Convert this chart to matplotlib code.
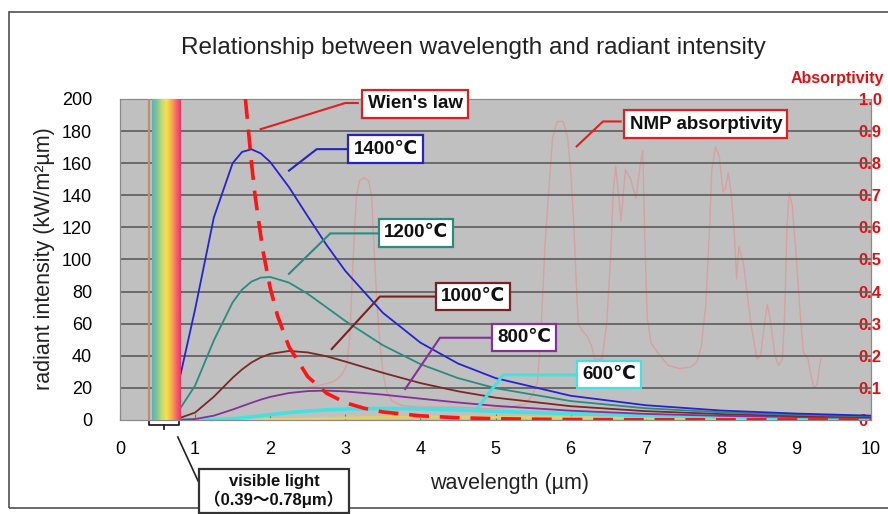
import numpy as np
import matplotlib
matplotlib.use("Agg")
import matplotlib.pyplot as plt
from matplotlib.colors import LinearSegmentedColormap
from matplotlib.patches import Rectangle

plt.rcParams['font.family'] = ['Liberation Sans', 'DejaVu Sans', 'Noto Sans CJK JP']

# wavelength grid (um) for the blackbody curves
wl = [0.5, 0.75, 1.0, 1.25, 1.5, 1.625, 1.75, 1.875, 2.0, 2.25, 2.5, 2.75, 3.0,
      3.5, 4.0, 4.5, 5.0, 6.0, 7.0, 8.0, 9.0, 10.0]
t1400 = [0.4, 16.5, 68.9, 126.2, 160.0, 167.0, 168.7, 166.1, 160.8, 145.1, 126.9, 109.1, 92.9,
         66.8, 48.2, 35.2, 26.1, 15.1, 9.2, 5.9, 4.0, 2.7]
t1200 = [0.0, 3.5, 21.4, 49.6, 73.3, 81.2, 86.2, 88.7, 89.1, 85.6, 78.6, 70.2, 61.7,
         46.6, 34.8, 26.1, 19.8, 11.8, 7.3, 4.8, 3.2, 2.3]
t1000 = [0.0, 0.5, 4.6, 14.5, 26.3, 31.5, 35.8, 39.0, 41.2, 43.0, 42.1, 39.7, 36.4,
         29.4, 23.0, 17.9, 13.9, 8.6, 5.5, 3.7, 2.5, 1.8]
t800 = [0.0, 0.0, 0.6, 2.7, 6.5, 8.6, 10.7, 12.7, 14.4, 16.8, 18.0, 18.3, 17.8,
        15.8, 13.3, 10.9, 8.8, 5.8, 3.8, 2.6, 1.8, 1.3]
t600 = [0.0, 0.0, 0.0, 0.2, 0.8, 1.3, 1.9, 2.6, 3.3, 4.6, 5.6, 6.3, 6.8,
        7.2, 7.0, 6.3, 5.4, 3.9, 2.8, 2.0, 1.4, 1.0]
t400 = [0.0, 0.0, 0.0, 0.0, 0.0, 0.02, 0.05, 0.1, 0.27, 0.48, 0.74, 1.0, 1.24,
        1.59, 1.75, 1.77, 1.69, 1.40, 1.10, 0.85, 0.65, 0.50]

# Wien's displacement locus
wien_x = [1.67, 1.7, 1.75, 1.8, 1.9, 2.0, 2.1, 2.25, 2.5, 2.75, 3.0, 3.25, 3.5, 4.0,
          4.5, 5.0, 5.5, 6.0, 7.0, 8.0, 9.0, 10.0]
wien_y = [200, 185.5, 160.5, 139.4, 106.4, 82.3, 64.6, 45.7, 27.0, 16.7, 10.8, 7.3, 5.0, 2.6,
          1.4, 0.8, 0.5, 0.3, 0.15, 0.08, 0.05, 0.03]

# NMP absorptivity (right axis)
nmp_x = [2.5, 2.7, 2.85, 2.95, 3.02, 3.06, 3.09, 3.12, 3.15, 3.19, 3.25, 3.31, 3.35, 3.38,
         3.42, 3.46, 3.5, 3.55, 3.62, 3.75, 4.0, 4.5, 4.9, 5.2, 5.4, 5.5, 5.56, 5.61, 5.66,
         5.71, 5.76, 5.82, 5.9, 5.96, 6.0, 6.04, 6.07, 6.1, 6.15, 6.22, 6.28, 6.32, 6.42,
         6.48, 6.53, 6.57, 6.6, 6.64, 6.67, 6.7, 6.73, 6.8, 6.87, 6.93, 6.96, 6.99, 7.02,
         7.07, 7.16, 7.3, 7.45, 7.6, 7.68, 7.74, 7.8, 7.85, 7.88, 7.93, 7.98, 8.03, 8.06,
         8.1, 8.14, 8.18, 8.21, 8.24, 8.3, 8.4, 8.48, 8.53, 8.58, 8.62, 8.66, 8.72, 8.77,
         8.82, 8.85, 8.88, 8.91, 8.95, 9.0, 9.06, 9.1, 9.16, 9.2, 9.24, 9.28, 9.33]
nmp_y = [0.10, 0.11, 0.12, 0.14, 0.17, 0.26, 0.42, 0.58, 0.70, 0.745, 0.755, 0.745, 0.70, 0.55,
         0.37, 0.24, 0.15, 0.09, 0.06, 0.045, 0.04, 0.04, 0.035, 0.04, 0.05, 0.08, 0.12, 0.30, 0.55,
         0.72, 0.88, 0.93, 0.93, 0.88, 0.78, 0.62, 0.46, 0.30, 0.28, 0.26, 0.23, 0.19, 0.19,
         0.30, 0.50, 0.72, 0.79, 0.70, 0.62, 0.70, 0.78, 0.75, 0.69, 0.80, 0.84, 0.55, 0.32,
         0.24, 0.21, 0.17, 0.16, 0.165, 0.18, 0.23, 0.36, 0.60, 0.78, 0.85, 0.82, 0.71, 0.72,
         0.77, 0.70, 0.58, 0.44, 0.54, 0.49, 0.30, 0.19, 0.20, 0.30, 0.36, 0.31, 0.20, 0.17,
         0.19, 0.33, 0.60, 0.71, 0.67, 0.52, 0.32, 0.21, 0.19, 0.14, 0.10, 0.11, 0.19]

yticks = [0, 20, 40, 60, 80, 100, 120, 140, 160, 180, 200]
xticks = [0, 1, 2, 3, 4, 5, 6, 7, 8, 9, 10]
rticks = [0, 0.1, 0.2, 0.3, 0.4, 0.5, 0.6, 0.7, 0.8, 0.9, 1.0]
rlabels = ['0', '0.1', '0.2', '0.3', '0.4', '0.5', '0.6', '0.7', '0.8', '0.9', '1.0']
visible = [0.39, 0.78]
band_colors = ['#5fb3b0', '#7cc49a', '#c8d870', '#f5e34a', '#f7b04a', '#f56a6a', '#f0306a']

fig = plt.figure(figsize=(8.88, 5.14), dpi=100)
ax1 = fig.add_axes([0.1351, 0.1829, 0.8458, 0.6245])
ax2 = ax1.twinx()
ax1.set_zorder(ax2.get_zorder() + 1)
ax1.patch.set_visible(False)
ax2.patch.set_visible(True)
ax2.set_facecolor('#c0c0c0')

ax1.set_xlim(0, 10)
ax1.set_ylim(0, 200)
ax2.set_ylim(0, 1.0)

for v in yticks[1:-1]:
    ax1.axhline(v, color='#5c5c5c', lw=1.2, zorder=1)

ax2.plot(nmp_x, nmp_y, color='#d9a0a0', lw=1.0)

ax1.plot(wl, t400, color='#e3cf6a', lw=2, zorder=2)
ax1.plot(wl, t600, color='#45e0e0', lw=2.6, zorder=2)
ax1.plot(wl, t800, color='#86309a', lw=1.3, zorder=3)
ax1.plot(wl, t1000, color='#7a2828', lw=1.3, zorder=3)
ax1.plot(wl, t1200, color='#2a8c80', lw=1.3, zorder=3)
ax1.plot(wl, t1400, color='#2424d0', lw=1.3, zorder=3)
ax1.plot(wien_x, wien_y, color='#ff1414', lw=2.6, dashes=(5.5, 3), zorder=4)

# visible light band
cmap = LinearSegmentedColormap.from_list('vis', band_colors)
ax1.imshow(np.linspace(0, 1, 256)[None, :], cmap=cmap, aspect='auto',
           extent=[0.42, visible[1] + 0.02, 0, 200], zorder=5)
ax1.axvline(visible[0], color='#c38c6c', lw=1.6, zorder=5)
ax1.set_xlim(0, 10)
ax1.set_ylim(0, 200)

ax1.set_xticks(xticks)
ax1.set_yticks(yticks)
ax1.tick_params(axis='x', direction='in', length=4, color='#707070', pad=15, labelsize=13)
ax1.tick_params(axis='y', length=0, pad=20, labelsize=13)
ax2.set_yticks(rticks)
ax2.set_yticklabels(rlabels)
ax2.tick_params(axis='y', length=0, pad=-9, labelsize=12, labelcolor='#e01010')
for lab in ax2.get_yticklabels():
    lab.set_fontweight('bold')
for ax in (ax1, ax2):
    for s in ax.spines.values():
        s.set_color('#8a8a8a')
        s.set_linewidth(0.8)

fig.text(0.533, 0.9066, 'Relationship between wavelength and radiant intensity',
         ha='center', va='center', fontsize=17.5, color='#222222')
fig.text(0.05, 0.497, 'radiant intensity (kW/m²µm)', rotation=90,
         ha='center', va='center', fontsize=15.5, color='#222222')
fig.text(0.574, 0.06, 'wavelength (µm)', ha='center', va='center', fontsize=15.5, color='#222222')
fig.text(0.89, 0.848, 'Absorptivity', ha='left', va='center', fontsize=11.5,
         fontweight='bold', color='#e01010')

fig.patches.append(Rectangle((0.0101, 0.0117), 1.0, 0.965, transform=fig.transFigure,
                             fill=False, ec='#505050', lw=1.2, zorder=0.5))

# callout labels
labels = [
    ("Wien's law", '#e02020', (3.93, 196.9), [1.86, 3.0, 3.18], [181, 197.5, 197.5], 1.5),
    ('1400℃', '#2424c0', (3.54, 168.75), [2.24, 2.62, 3.04], [155, 168.75, 168.75], 1.5),
    ('1200℃', '#2a8c80', (3.94, 116.6), [2.24, 2.80, 3.44], [90.6, 116.25, 116.25], 1.5),
    ('1000℃', '#7a2020', (4.70, 76.9), [2.81, 3.46, 4.22], [43.75, 76.9, 76.9], 1.5),
    ('800℃', '#86309a', (5.38, 51.25), [3.79, 4.26, 4.99], [18.75, 51.25, 51.25], 1.5),
    ('600℃', '#45e0e0', (6.51, 28.4), [4.74, 5.10, 6.09], [6.25, 28.1, 28.1], 2.2),
    ('NMP absorptivity', '#e02020', (7.80, 184.4), [6.07, 6.43, 6.68], [170, 186, 186], 1.5),
]
for text, col, pos, lx, ly, lw in labels:
    ax1.plot(lx, ly, color=col, lw=lw, zorder=6, solid_capstyle='butt')
    ax1.text(pos[0], pos[1], text, ha='center', va='center', fontsize=13.5,
             fontweight='bold', color='#111111', zorder=7,
             bbox=dict(boxstyle='square,pad=0.28', fc='white', ec=col, lw=1.6))

# visible light bracket and box
ax1.plot([visible[0], visible[0], visible[1], visible[1]], [-1.0, -3.0, -3.0, -1.0],
         color='#222222', lw=1.3, clip_on=False, zorder=6)
ax1.plot([0.585, 0.585], [-3.0, -5.5], color='#222222', lw=1.3, clip_on=False, zorder=6)
ax1.plot([0.77, 1.04], [-10.6, -38], color='#222222', lw=1.2, clip_on=False, zorder=6)
ax1.text(2.05, -44.4, 'visible light\n（0.39～0.78μm）', ha='center', va='center',
         fontsize=12, fontweight='bold', color='#111111', linespacing=1.15,
         clip_on=False, zorder=8,
         bbox=dict(boxstyle='square,pad=0.3', fc='white', ec='#333333', lw=1.6))

fig.savefig('out.png', dpi=100)
